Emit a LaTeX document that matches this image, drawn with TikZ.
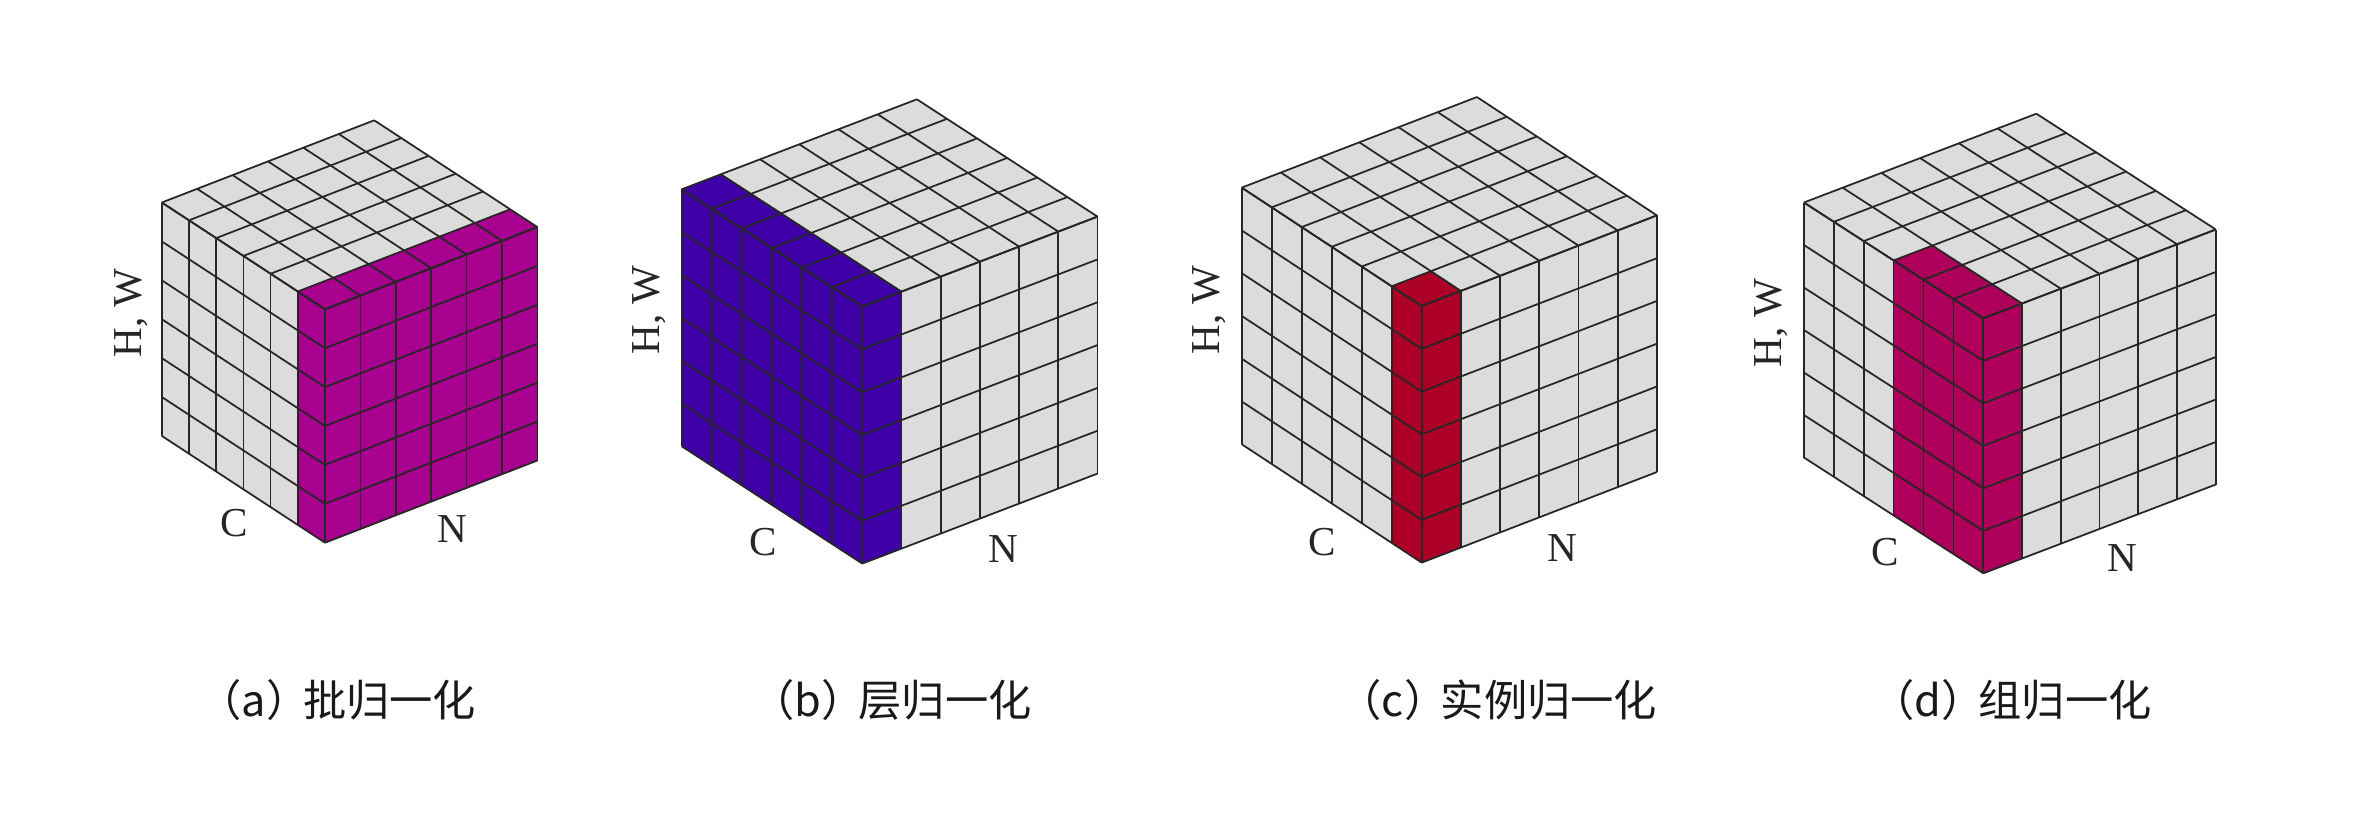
\documentclass[tikz,border=0pt]{standalone}
\usepackage{fontspec}
\setmainfont{Liberation Serif}
\newfontfamily\cjk{Noto Sans CJK SC}
\definecolor{cellgray}{HTML}{DCDCDC}
\definecolor{gridline}{HTML}{262626}
\definecolor{batchcol}{HTML}{A8008F}
\definecolor{layercol}{HTML}{3F00A8}
\definecolor{instcol}{HTML}{AC0027}
\definecolor{groupcol}{HTML}{AE005A}
\def\u{.01cm}
\tikzset{
    axislabel/.style={font=\fontsize{11.7pt}{13pt}\selectfont,text=black!85},
    caption/.style={font=\cjk\fontsize{12.3pt}{14pt}\selectfont,anchor=west,text=black!90,inner sep=0pt},
    cubea/.style={shift={(325,309.3)},x={(-27.2*\u,17.8*\u)},y={(35.4*\u,13.7*\u)},z={(0,-38.9*\u)}},
    cubeb/.style={shift={(862.3,306.6)},x={(-30.1*\u,19.55*\u)},y={(39.2*\u,15*\u)},z={(0,-42.83*\u)}},
    cubec/.style={shift={(1421.7,306)},x={(-30*\u,19.73*\u)},y={(39.2*\u,15.1*\u)},z={(0,-42.77*\u)}},
    cubed/.style={shift={(1983.3,318.3)},x={(-29.9*\u,19.3*\u)},y={(38.75*\u,14.8*\u)},z={(0,-42.5*\u)}},
}
% #1 cells along C, #2 cells along N, #3 colour
\newcommand{\normcube}[3]{
    \fill[cellgray] (0,0,0) -- (6,0,0) -- (6,6,0) -- (0,6,0) -- cycle;
    \fill[cellgray] (0,0,0) -- (6,0,0) -- (6,0,6) -- (0,0,6) -- cycle;
    \fill[cellgray] (0,0,0) -- (0,6,0) -- (0,6,6) -- (0,0,6) -- cycle;
    \fill[#3] (0,0,0) -- (#1,0,0) -- (#1,#2,0) -- (0,#2,0) -- cycle;
    \fill[#3] (0,0,0) -- (#1,0,0) -- (#1,0,6) -- (0,0,6) -- cycle;
    \fill[#3] (0,0,0) -- (0,#2,0) -- (0,#2,6) -- (0,0,6) -- cycle;
    \foreach \i in {0,1,...,6}{
        \draw[gridline,line width=.5pt] (\i,0,0) -- (\i,6,0);
        \draw[gridline,line width=.5pt] (0,\i,0) -- (6,\i,0);
        \draw[gridline,line width=.5pt] (\i,0,0) -- (\i,0,6);
        \draw[gridline,line width=.5pt] (0,0,\i) -- (6,0,\i);
        \draw[gridline,line width=.5pt] (0,\i,0) -- (0,\i,6);
        \draw[gridline,line width=.5pt] (0,0,\i) -- (0,6,\i);
    }
}
\begin{document}
\begin{tikzpicture}[x=.01cm,y=-.01cm]
\useasboundingbox (0,0) rectangle (2369,833);

\begin{scope}[cubea]
    \normcube{1}{6}{batchcol}
\end{scope}
\begin{scope}[cubeb]
    \normcube{6}{1}{layercol}
\end{scope}
\begin{scope}[cubec]
    \normcube{1}{1}{instcol}
\end{scope}
\begin{scope}[cubed]
    \normcube{3}{1}{groupcol}
\end{scope}

\node[axislabel] at (234,523)(aC){C};
\node[axislabel] at (452,529)(aN){N};
\node[axislabel,rotate=90] at (131,313)(aHW){H, W};
\node[axislabel] at (763,542)(bC){C};
\node[axislabel] at (1003,549)(bN){N};
\node[axislabel,rotate=90] at (649,310)(bHW){H, W};
\node[axislabel] at (1322,542)(cC){C};
\node[axislabel] at (1562,548)(cN){N};
\node[axislabel,rotate=90] at (1209,310)(cHW){H, W};
\node[axislabel] at (1885,552)(dC){C};
\node[axislabel] at (2122,558)(dN){N};
\node[axislabel,rotate=90] at (1771,323)(dHW){H, W};

\node[caption] at (198,700)(aCap){（a）\kern-.15em 批归一化};
\node[caption] at (751,700)(bCap){（b）\kern-.15em 层归一化};
\node[caption] at (1338,700)(cCap){（c）\kern-.15em 实例归一化};
\node[caption] at (1871,700)(dCap){（d）\kern-.15em 组归一化};
\end{tikzpicture}
\end{document}
